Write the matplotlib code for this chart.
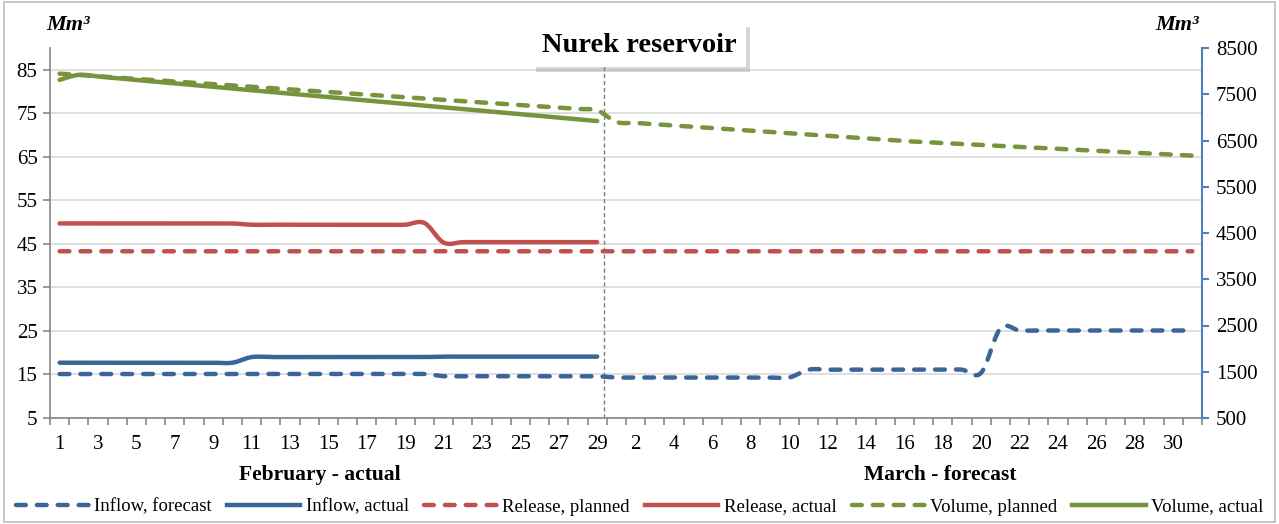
import numpy as np
import matplotlib
matplotlib.use('Agg')
import matplotlib.pyplot as plt
from matplotlib.lines import Line2D
from matplotlib.patches import Rectangle
import matplotlib.patheffects as pe

plt.rcParams['font.family'] = ['Liberation Serif', 'DejaVu Serif']

# ---------------- data ----------------
feb_days = list(range(1, 30))
mar_days = list(range(1, 32))

inflow_forecast = [15.1, 15.1, 15.1, 15.1, 15.1, 15.1, 15.1, 15.1, 15.1, 15.1,
                   15.1, 15.1, 15.1, 15.1, 15.1, 15.1, 15.1, 15.1, 15.1, 15.1,
                   14.6, 14.6, 14.6, 14.6, 14.6, 14.6, 14.6, 14.6, 14.6,
                   14.3, 14.3, 14.3, 14.3, 14.3, 14.3, 14.3, 14.3, 14.3, 14.3,
                   16.1, 16.1, 16.1, 16.1, 16.1, 16.1, 16.1, 16.1, 16.1, 15.4,
                   25.6, 25.1, 25.1, 25.1, 25.1, 25.1, 25.1, 25.1, 25.1, 25.1, 25.1]
inflow_actual = [17.7, 17.7, 17.7, 17.7, 17.7, 17.7, 17.7, 17.7, 17.7, 17.7,
                 19.0, 19.0, 19.0, 19.0, 19.0, 19.0, 19.0, 19.0, 19.0, 19.0,
                 19.1, 19.1, 19.1, 19.1, 19.1, 19.1, 19.1, 19.1, 19.1]
release_planned = [43.3] * 60
release_actual = [49.7, 49.7, 49.7, 49.7, 49.7, 49.7, 49.7, 49.7, 49.7, 49.7,
                  49.4, 49.4, 49.4, 49.4, 49.4, 49.4, 49.4, 49.4, 49.4, 49.8,
                  45.3, 45.4, 45.4, 45.4, 45.4, 45.4, 45.4, 45.4, 45.4]
volume_planned = [7945, 7917, 7888, 7860, 7832, 7803, 7775, 7747, 7719, 7690,
                  7662, 7634, 7605, 7577, 7549, 7520, 7492, 7464, 7436, 7407,
                  7379, 7351, 7322, 7294, 7266, 7237, 7209, 7181, 7153,
                  6900, 6880, 6852, 6824, 6796, 6768, 6740, 6712, 6684, 6656,
                  6628, 6600, 6572, 6544, 6516, 6488, 6467, 6446, 6425, 6404,
                  6383, 6362, 6341, 6320, 6299, 6278, 6257, 6236, 6215, 6194, 6173]
volume_actual = [7810, 7920, 7883, 7846, 7809, 7772, 7735, 7698, 7661, 7624,
                 7587, 7550, 7513, 7476, 7439, 7402, 7365, 7328, 7291, 7254,
                 7217, 7180, 7143, 7106, 7069, 7032, 6995, 6958, 6921]

left_ticks = [5, 15, 25, 35, 45, 55, 65, 75, 85]
right_ticks = [500, 1500, 2500, 3500, 4500, 5500, 6500, 7500, 8500]

BLUE = '#3A6598'
RED = '#C0504D'
GREEN = '#77933C'
AXBLUE = '#4F81BD'
GRAY = '#868686'


def smooth(xs, ys, n=20):
    xs = np.asarray(xs, float)
    ys = np.asarray(ys, float)
    P = np.column_stack([xs, ys])
    out = [P[0]]
    m = len(P)
    t = np.linspace(0, 1, n + 1)[1:][:, None]
    for i in range(m - 1):
        p0 = P[max(i - 1, 0)]
        p1 = P[i]
        p2 = P[i + 1]
        p3 = P[min(i + 2, m - 1)]
        c1 = p1 + (p2 - p0) / 6.0
        c2 = p2 - (p3 - p1) / 6.0
        seg = ((1 - t) ** 3) * p1 + 3 * ((1 - t) ** 2) * t * c1 + 3 * (1 - t) * t ** 2 * c2 + t ** 3 * p2
        out.extend(seg)
    out = np.array(out)
    return out[:, 0], out[:, 1]


n_feb = len(feb_days)
n_all = n_feb + len(mar_days)
x_all = np.arange(1, n_all + 1)
x_feb = x_all[:n_feb]

W, H = 1279, 524
fig = plt.figure(figsize=(W / 100, H / 100), dpi=100)
ax = fig.add_axes([50 / W, 1 - 418 / H, 1152 / W, 370 / H])
ax2 = ax.twinx()

ax.set_xlim(0.5, n_all + 0.5)
ax.set_ylim(5, 90)
ax2.set_ylim(500, 8500)

ax.set_yticks(left_ticks)
ax2.set_yticks(right_ticks)
ax.yaxis.grid(True, color='#D9D9D9', lw=1.2)
ax.set_axisbelow(True)

for s in ['top', 'right']:
    ax.spines[s].set_visible(False)
ax.spines['left'].set_color(GRAY)
ax.spines['bottom'].set_color(GRAY)
ax.spines['left'].set_linewidth(1.2)
ax.spines['bottom'].set_linewidth(1.2)
for s in ['top', 'left', 'bottom']:
    ax2.spines[s].set_visible(False)
ax2.spines['right'].set_color(AXBLUE)
ax2.spines['right'].set_linewidth(1.5)

# x ticks
labels_pos = []
labels_txt = []
for i, d in enumerate(feb_days):
    if i % 2 == 0:
        labels_pos.append(x_all[i])
        labels_txt.append(str(d))
for j, d in enumerate(mar_days):
    i = n_feb + j
    if i % 2 == 0:
        labels_pos.append(x_all[i])
        labels_txt.append(str(d))
ax.set_xticks(labels_pos)
ax.set_xticklabels(labels_txt)
ax.set_xticks(np.arange(0.5, n_all + 1, 1.0), minor=True)
ax.tick_params(axis='x', which='major', length=0, pad=12, labelsize=15)
ax.tick_params(axis='x', which='minor', length=5, color=GRAY, width=1.2)
ax.tick_params(axis='y', length=5, color=GRAY, width=1.2, pad=4, labelsize=15)
ax2.tick_params(axis='y', length=5, color=AXBLUE, width=1.5, pad=5, labelsize=15)

LW = 3.2
DASH = (2.2, 2.5)

# left axis series
xs, ys = smooth(x_all, inflow_forecast)
ax.plot(xs, ys, color=BLUE, lw=LW, dashes=DASH, dash_capstyle='round', solid_capstyle='round')
xs, ys = smooth(x_feb, inflow_actual)
ax.plot(xs, ys, color=BLUE, lw=LW, solid_capstyle='round')
xs, ys = smooth(x_all, release_planned)
ax.plot(xs, ys, color=RED, lw=LW, dashes=DASH, dash_capstyle='round')
xs, ys = smooth(x_feb, release_actual)
ax.plot(xs, ys, color=RED, lw=LW, solid_capstyle='round')

# right axis series
xs, ys = smooth(x_all, volume_planned)
ax2.plot(xs, ys, color=GREEN, lw=LW, dashes=DASH, dash_capstyle='round')
xs, ys = smooth(x_feb, volume_actual)
ax2.plot(xs, ys, color=GREEN, lw=LW, solid_capstyle='round')

# separator between months
ax.axvline(n_feb + 0.35, color='#7F7F7F', lw=1, dashes=(3, 2), zorder=1)

# month labels
fig.text(320 / W, 1 - 475 / H, 'February - actual', ha='center', va='center',
         fontsize=15.5, fontweight='bold')
fig.text(940 / W, 1 - 475 / H, 'March - forecast', ha='center', va='center',
         fontsize=15.5, fontweight='bold')

# unit labels
fig.text(68 / W, 1 - 25 / H, 'Mm³', ha='center', va='center', fontsize=16,
         fontweight='bold', fontstyle='italic')
fig.text(1177 / W, 1 - 25 / H, 'Mm³', ha='center', va='center', fontsize=16,
         fontweight='bold', fontstyle='italic')

# title
t = fig.text(639 / W, 1 - 45 / H, 'Nurek reservoir', ha='center', va='center',
             fontsize=20.5, fontweight='bold', zorder=10,
             bbox=dict(boxstyle='square,pad=0.35', fc='white', ec='none'))
t.get_bbox_patch().set_path_effects([
    pe.withSimplePatchShadow(offset=(3, -3), shadow_rgbFace=(0.6, 0.6, 0.6), alpha=0.4),
    pe.Normal()])

# legend
handles = [
    Line2D([], [], color=BLUE, lw=LW, dashes=DASH, dash_capstyle='round'),
    Line2D([], [], color=BLUE, lw=LW),
    Line2D([], [], color=RED, lw=LW, dashes=DASH, dash_capstyle='round'),
    Line2D([], [], color=RED, lw=LW),
    Line2D([], [], color=GREEN, lw=LW, dashes=DASH, dash_capstyle='round'),
    Line2D([], [], color=GREEN, lw=LW),
]
names = ['Inflow, forecast', 'Inflow, actual', 'Release, planned',
         'Release, actual', 'Volume, planned', 'Volume, actual']
fig.legend(handles, names, loc='center', bbox_to_anchor=(0.5, 1 - 507 / H),
           ncol=6, frameon=False, fontsize=13.5, handlelength=3.9,
           handletextpad=0.3, columnspacing=0.8, borderpad=0.1)

# outer border
fig.patches.append(Rectangle((0.003, 0.004), 0.994, 0.992, transform=fig.transFigure,
                             fill=False, ec='#BFBFBF', lw=1.2))

fig.savefig('out.png', dpi=100)
